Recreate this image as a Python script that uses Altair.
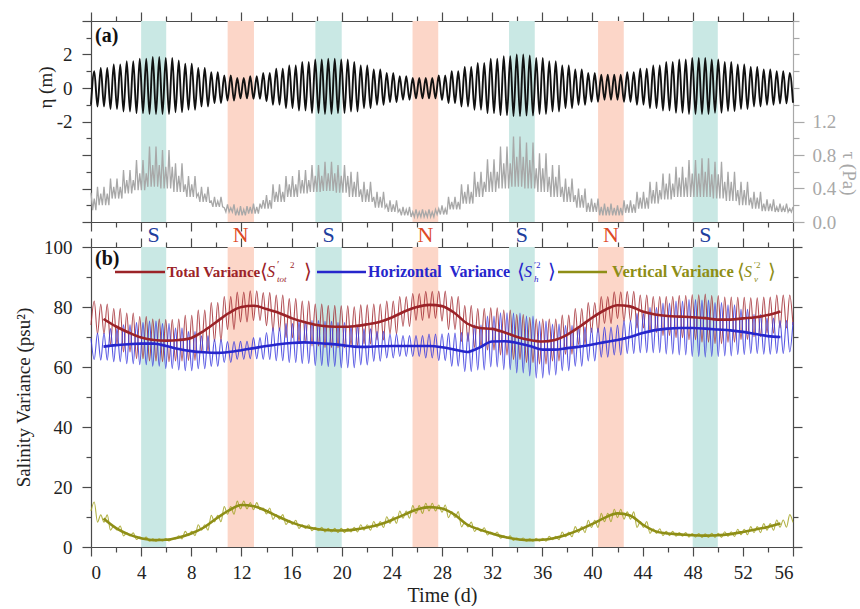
import altair as alt
import pandas as pd

# ------------------------------------------------------------------ data
# daily envelope values (day 0 .. 56)
eta_high = [1.0, 1.2, 1.4, 1.6, 1.75, 1.85, 1.8, 1.65, 1.45, 1.2, 0.95, 0.75, 0.6, 0.7, 0.9,
            1.15, 1.35, 1.55, 1.7, 1.75, 1.7, 1.55, 1.35, 1.1, 0.9, 0.7, 0.6, 0.6, 0.75, 1.0,
            1.25, 1.5, 1.75, 1.9, 2.0, 1.95, 1.8, 1.6, 1.35, 1.1, 0.9, 0.8, 0.8, 0.95, 1.15,
            1.35, 1.55, 1.7, 1.8, 1.8, 1.7, 1.55, 1.4, 1.25, 1.1, 1.0, 0.9]
eta_low = [-1.0, -1.1, -1.25, -1.4, -1.5, -1.55, -1.55, -1.45, -1.3, -1.1, -0.9, -0.75, -0.62,
           -0.65, -0.8, -1.0, -1.2, -1.35, -1.5, -1.55, -1.5, -1.4, -1.2, -1.0, -0.85, -0.7,
           -0.62, -0.62, -0.72, -0.9, -1.1, -1.3, -1.5, -1.62, -1.68, -1.65, -1.55, -1.4, -1.2,
           -1.0, -0.82, -0.7, -0.7, -0.82, -1.0, -1.2, -1.35, -1.48, -1.55, -1.55, -1.48,
           -1.38, -1.25, -1.1, -1.0, -0.92, -0.88]
tau_peak = [0.35, 0.42, 0.52, 0.62, 0.74, 0.9, 0.86, 0.7, 0.55, 0.42, 0.3, 0.21, 0.19, 0.22,
            0.32, 0.45, 0.55, 0.62, 0.68, 0.72, 0.68, 0.6, 0.48, 0.36, 0.26, 0.18, 0.15, 0.15,
            0.2, 0.3, 0.45, 0.6, 0.75, 0.9, 1.02, 0.95, 0.82, 0.68, 0.52, 0.4, 0.28, 0.22, 0.2,
            0.26, 0.36, 0.48, 0.58, 0.66, 0.74, 0.76, 0.72, 0.6, 0.48, 0.36, 0.27, 0.22, 0.18]
tau_peak2 = [0.28, 0.34, 0.42, 0.5, 0.58, 0.68, 0.66, 0.55, 0.45, 0.34, 0.25, 0.17, 0.15, 0.18,
             0.26, 0.36, 0.45, 0.5, 0.55, 0.58, 0.55, 0.48, 0.39, 0.3, 0.21, 0.15, 0.12, 0.12,
             0.16, 0.24, 0.36, 0.48, 0.6, 0.7, 0.78, 0.74, 0.64, 0.54, 0.42, 0.32, 0.23, 0.18,
             0.17, 0.21, 0.29, 0.38, 0.46, 0.53, 0.58, 0.6, 0.57, 0.48, 0.38, 0.29, 0.22, 0.18, 0.16]
tau_trough = [0.14, 0.2, 0.28, 0.34, 0.38, 0.42, 0.4, 0.36, 0.3, 0.24, 0.18, 0.12, 0.08, 0.1,
              0.16, 0.24, 0.3, 0.34, 0.36, 0.37, 0.35, 0.3, 0.24, 0.17, 0.12, 0.08, 0.06, 0.06,
              0.09, 0.15, 0.22, 0.3, 0.36, 0.4, 0.42, 0.4, 0.36, 0.3, 0.24, 0.17, 0.12, 0.08,
              0.08, 0.11, 0.16, 0.22, 0.27, 0.3, 0.3, 0.3, 0.28, 0.25, 0.2, 0.16, 0.13, 0.12, 0.12]

tot_mean = [78, 76, 73.5, 71.5, 69.8, 69, 68.8, 69, 69.7, 72, 75, 78, 80, 80.4, 79.3, 78, 76.3,
            75, 74, 73.5, 73.4, 73.6, 74.2, 75, 76.5, 78.5, 80, 80.7, 80.3, 78, 74.5, 73, 72.7,
            71.5, 70, 69, 68.5, 69, 70.8, 73.5, 76.5, 79, 80.6, 80.2, 78.5, 77.5, 77, 76.8,
            76.6, 76.3, 75.8, 75.8, 76.2, 76.6, 77.3, 78.5, 79]
tot_amp = [4, 5, 6, 6.5, 7, 7, 7, 7, 7.5, 7, 6.5, 5.5, 5, 5, 5.5, 6, 6.5, 7, 7, 7, 7, 6.5, 6.5,
           6, 5.5, 5, 4.5, 4.5, 5, 5.5, 6, 6.5, 7, 7.5, 7.5, 7.5, 7.5, 7, 6.5, 6, 5, 4.5, 4.5,
           5, 5.5, 6, 6.5, 7, 7.5, 8, 8, 7.5, 7, 6.5, 6, 5.5, 5]
hor_mean = [66, 66.8, 67.3, 67.6, 67.8, 67.8, 67, 66, 65.3, 64.9, 64.7, 65, 65.6, 66.3, 67, 67.6,
            68, 68.2, 68, 67.7, 67.3, 66.8, 66.7, 66.9, 67, 67, 67, 67, 66.6, 65.8, 65, 66.5,
            68.5, 68.6, 68, 67, 65.8, 65.8, 66.3, 66.8, 67.5, 68.3, 69, 70, 71.3, 72.3, 72.8,
            73, 73, 72.8, 72.5, 72.2, 71.7, 71, 70.3, 70, 70]
hor_amp = [3.5, 4.5, 5.5, 6.5, 7, 7.5, 7.5, 7, 6.5, 5.5, 4.5, 3.5, 3, 3.5, 4.5, 5.5, 6.5, 7, 7.5,
           7.5, 7.5, 7, 6, 5, 4, 3.5, 3.5, 4, 4.5, 5.5, 6.5, 7.5, 8.5, 9.5, 10, 10, 9.5, 8.5,
           7.5, 6.5, 5.5, 5, 5, 5.5, 6.5, 7.5, 8.5, 9, 9.5, 9.5, 9, 8.5, 7.5, 6.5, 6, 5.5, 5]
ver_mean = [13.5, 9.5, 6.3, 4.2, 2.9, 2.3, 2.4, 3.2, 4.5, 6.5, 9.5, 12.2, 14, 13.6, 12, 10, 8.2,
            6.8, 6, 5.6, 5.5, 5.8, 6.5, 7.5, 9, 10.8, 12.5, 13.3, 12.8, 10.8, 7.5, 5.8, 4.5,
            3.3, 2.6, 2.3, 2.4, 3, 4.2, 5.8, 7.7, 9.8, 11.2, 10.5, 7.5, 5.3, 4.5, 4.2, 3.9, 3.8,
            3.9, 4.3, 5, 5.8, 6.7, 7.8, 9.5]
ver_amp = [1.5, 1.2, 0.7, 0.5, 0.4, 0.4, 0.4, 0.5, 0.7, 0.9, 1.1, 1.3, 1.3, 1.2, 1.0, 0.8, 0.7,
           0.6, 0.6, 0.6, 0.7, 0.8, 0.9, 1.0, 1.1, 1.2, 1.3, 1.3, 1.2, 1.0, 0.8, 0.6, 0.5, 0.4,
           0.4, 0.4, 0.5, 0.6, 0.8, 1.0, 1.2, 1.4, 1.4, 1.2, 1.0, 0.8, 0.7, 0.6, 0.6, 0.6, 0.7,
           0.8, 0.9, 1.0, 1.1, 1.2, 1.3]

spring_start = [4.0, 17.9, 33.35, 48.0]
spring_end = [6.0, 20.0, 35.4, 50.0]
neap_start = [10.9, 25.65, 40.45]
neap_end = [13.0, 27.7, 42.5]
x_ticks = list(range(0, 57, 2))
eta_ticks = list(range(-8, 5))
tau_ticks = [round(0.2 * i, 1) for i in range(13)]
var_ticks = list(range(0, 101, 10))

T_END = 56
N_HALF = 216   # semi-diurnal half cycles read over the 56 days

# ------------------------------------------------------------------ tables
half_times = [T_END * k / N_HALF for k in range(N_HALF + 1)]
quarter_times = [T_END * k / (2 * N_HALF) for k in range(2 * N_HALF + 1)]


def di(t):
    return min(56, int(round(t)))


df_eta = pd.DataFrame({
    "t": half_times,
    "v": [(eta_high if k % 2 else eta_low)[di(t)] for k, t in enumerate(half_times)],
})
tau_pick = [tau_peak, tau_trough, tau_peak2, tau_trough]
df_tau = pd.DataFrame({
    "t": quarter_times,
    "v": [tau_pick[k % 4][di(t)] for k, t in enumerate(quarter_times)],
})

SER = ["tot", "hor", "ver"]
series_src = {"tot": (tot_mean, tot_amp, 1), "hor": (hor_mean, hor_amp, -1), "ver": (ver_mean, ver_amp, 1)}
thin_rows = []
for s in SER:
    mean, amp, sgn = series_src[s]
    for k, t in enumerate(half_times):
        d = di(t)
        thin_rows.append({"t": t, "v": mean[d] + sgn * (1 if k % 2 else -1) * amp[d], "series": s})
df_thin = pd.DataFrame(thin_rows)
thick_rows = []
for s in SER:
    mean = series_src[s][0]
    for d in range(1, 56):
        thick_rows.append({"t": d, "v": mean[d], "series": s})
df_thick = pd.DataFrame(thick_rows)

df_spring = pd.DataFrame({"start": spring_start, "end": spring_end,
                          "c": [(a + b) / 2 for a, b in zip(spring_start, spring_end)], "lab": "S"})
df_neap = pd.DataFrame({"start": neap_start, "end": neap_end,
                        "c": [(a + b) / 2 for a, b in zip(neap_start, neap_end)], "lab": "N"})
one = pd.DataFrame({"k": [0]})

# ------------------------------------------------------------------ style
FONT = "Liberation Serif"
AX = "#4a4a4a"
GRAY = "#a8a8a8"
TEAL = "#c9e8e4"
SALMON = "#fcd6c8"
RED_THIN, BLUE_THIN, OLV_THIN = "#a32e35", "#3838de", "#a3a324"
RED, BLUE, OLV = "#9b2328", "#2626cc", "#8e8e16"
W, HA, HB = 702, 201, 300

xsc = alt.Scale(domain=[0, 56], nice=False, zero=False)


def cond_size(test, big, small):
    return {"condition": {"test": test, "value": big}, "value": small}


def x_axis(orient, labels):
    kw = dict(orient=orient, values=x_ticks, grid=False, domainColor=AX, tickColor=AX,
              domainWidth=1.2, tickWidth=1.2,
              tickSize=cond_size("datum.value % 4 == 0", 9, 5))
    if labels:
        kw.update(labelExpr="datum.value % 4 == 0 ? datum.label : ''", labelFont=FONT,
                  labelFontSize=19, labelColor="#222", labelPadding=7, title="Time (d)",
                  titleFont=FONT, titleFontSize=20, titleFontWeight="normal",
                  titleColor="#222", titlePadding=3)
    else:
        kw.update(labels=False, title="")
    return alt.Axis(**kw)


def band(df, color):
    return alt.Chart(df).mark_rect(color=color).encode(
        x=alt.X("start:Q", scale=xsc, axis=None), x2="end:Q")


def txt(s, x, y, size, color, weight="normal", style="normal", align="left"):
    return alt.Chart(one).mark_text(text=s, font=FONT, fontSize=size, color=color,
                                    fontWeight=weight, fontStyle=style, align=align,
                                    baseline="middle").encode(x=alt.value(x), y=alt.value(y))


def seg(x1, x2, y, color):
    return alt.Chart(one).mark_rule(color=color, strokeWidth=2.4).encode(
        x=alt.value(x1), x2=alt.value(x2), y=alt.value(y))


def math_label(x0, sub, sup_prime_with_s, color):
    """<S'_sub ^2> built from pieces starting at x0 (bracket)."""
    parts = [txt("⟨", x0, LY, 20, color), txt("S", x0 + 7, LY, 16, color, style="italic")]
    if sup_prime_with_s:
        parts += [txt("′", x0 + 17, LY - 7, 11, color),
                  txt(sub, x0 + 17, LY + 7, 9, color, style="italic"),
                  txt("2", x0 + 30, LY - 7, 9, color),
                  txt("⟩", x0 + 44, LY, 20, color)]
    else:
        parts += [txt("′2", x0 + 17, LY - 7, 9, color),
                  txt(sub, x0 + 17, LY + 7, 9, color, style="italic"),
                  txt("⟩", x0 + 31, LY, 20, color)]
    return parts


# ------------------------------------------------------------------ panel (a)
eta_axis = alt.Axis(orient="left", values=eta_ticks, grid=False, domainColor=AX, tickColor=AX,
                    domainWidth=1.2, tickWidth=1.2,
                    tickSize=cond_size("datum.value % 2 == 0", 9, 5),
                    labelExpr="datum.value == 2 ? '2' : datum.value == 0 ? '0' : datum.value == -2 ? '-2' : ''",
                    labelFont=FONT, labelFontSize=19, labelColor="#222", labelPadding=10,
                    title="η (m)", titleFont=FONT, titleFontSize=19, titleFontWeight="normal",
                    titleColor="#222", titleX=-46, titleY=66, titleBaseline="middle")
tau_axis = alt.Axis(orient="right", values=tau_ticks, grid=False, domainColor=GRAY, tickColor=GRAY,
                    domainWidth=1.2, tickWidth=1.2,
                    tickSize=cond_size("round(datum.value * 10) % 4 == 0 && datum.value < 1.3", 11, 6),
                    labelExpr="round(datum.value * 10) % 4 == 0 && datum.value < 1.3 ? format(datum.value, '.1f') : ''",
                    labelFont=FONT, labelFontSize=19, labelColor=GRAY, labelPadding=8,
                    title="τ (Pa)", titleFont=FONT, titleFontSize=19, titleFontWeight="normal",
                    titleColor=GRAY, titleX=55, titleY=152, titleBaseline="middle")

eta_line = alt.Chart(df_eta).mark_line(color="#111111", strokeWidth=1.9, interpolate="monotone").encode(
    x=alt.X("t:Q", scale=xsc, axis=x_axis("bottom", False)),
    y=alt.Y("v:Q", scale=alt.Scale(domain=[-8, 4], nice=False, zero=False), axis=eta_axis))
tau_line = alt.Chart(df_tau).mark_line(color=GRAY, strokeWidth=1.3).encode(
    x=alt.X("t:Q", scale=xsc, axis=x_axis("top", False)),
    y=alt.Y("v:Q", scale=alt.Scale(domain=[0, 2.4], nice=False, zero=False), axis=tau_axis))

panel_a = alt.layer(
    band(df_spring, TEAL), band(df_neap, SALMON), tau_line, eta_line,
    txt("(a)", 4, 15, 20, "#111", weight="bold"),
).resolve_scale(y="independent").resolve_axis(x="independent", y="independent").properties(
    width=W, height=HA)

# ------------------------------------------------------------------ panel (b)
ysc_b = alt.Scale(domain=[0, 100], nice=False, zero=False)
left_b = alt.Axis(orient="left", values=var_ticks, grid=False, domainColor=AX, tickColor=AX,
                  domainWidth=1.2, tickWidth=1.2,
                  tickSize=cond_size("datum.value % 20 == 0", 9, 5),
                  labelExpr="datum.value % 20 == 0 ? datum.label : ''",
                  labelFont=FONT, labelFontSize=19, labelColor="#222", labelPadding=10,
                  title="Salinity Variance (psu²)", titleFont=FONT, titleFontSize=19,
                  titleFontWeight="normal", titleColor="#222", titleX=-68, titleY=150,
                  titleBaseline="middle")
right_b = alt.Axis(orient="right", values=var_ticks, grid=False, domainColor=AX, tickColor=AX,
                   domainWidth=1.2, tickWidth=1.2,
                   tickSize=cond_size("datum.value % 20 == 0", 9, 5), labels=False, title="")

thin = alt.Chart(df_thin).mark_line(strokeWidth=1.1, opacity=0.85, interpolate="monotone").encode(
    x=alt.X("t:Q", scale=xsc, axis=x_axis("bottom", True)),
    y=alt.Y("v:Q", scale=ysc_b, axis=left_b),
    color=alt.Color("series:N", scale=alt.Scale(domain=SER, range=[RED_THIN, BLUE_THIN, OLV_THIN]),
                    legend=None))
thick = alt.Chart(df_thick).mark_line(strokeWidth=2.6, interpolate="monotone").encode(
    x=alt.X("t:Q", scale=xsc, axis=x_axis("top", False)),
    y=alt.Y("v:Q", scale=ysc_b, axis=right_b),
    color=alt.Color("series:N", scale=alt.Scale(domain=SER, range=[RED, BLUE, OLV]), legend=None))

s_lab = alt.Chart(df_spring).mark_text(font=FONT, fontSize=22, color="#1e3f9e", baseline="middle").encode(
    x=alt.X("c:Q", scale=xsc, axis=None), y=alt.value(-12), text="lab:N")
n_lab = alt.Chart(df_neap).mark_text(font=FONT, fontSize=22, color="#de4a26", baseline="middle").encode(
    x=alt.X("c:Q", scale=xsc, axis=None), y=alt.value(-12), text="lab:N")

LY = 25
legend = (
    [seg(24, 74, LY, RED), txt("Total Variance", 76, LY, 15, RED, weight="bold")]
    + math_label(169, "tot", True, RED)
    + [seg(226, 275, LY, BLUE), txt("Horizontal\u00a0 Variance", 277, LY, 16, BLUE, weight="bold")]
    + math_label(426, "h", False, BLUE)
    + [seg(467, 516, LY, OLV), txt("Vertical Variance", 521, LY, 16.5, OLV, weight="bold")]
    + math_label(646, "v", False, OLV)
)

panel_b = alt.layer(
    band(df_spring, TEAL), band(df_neap, SALMON), thin, thick, s_lab, n_lab,
    txt("(b)", 4, 12, 20, "#111", weight="bold"), *legend,
).resolve_scale(color="independent").resolve_axis(x="independent", y="independent").properties(
    width=W, height=HB)

chart = alt.vconcat(panel_a, panel_b, spacing=25, bounds="flush").properties(
    padding={"left": 13, "top": 10, "right": 0, "bottom": 0}
).configure_view(stroke=None).configure(font=FONT)

chart.save("out.html", embed_options={"renderer": "svg", "actions": False})
